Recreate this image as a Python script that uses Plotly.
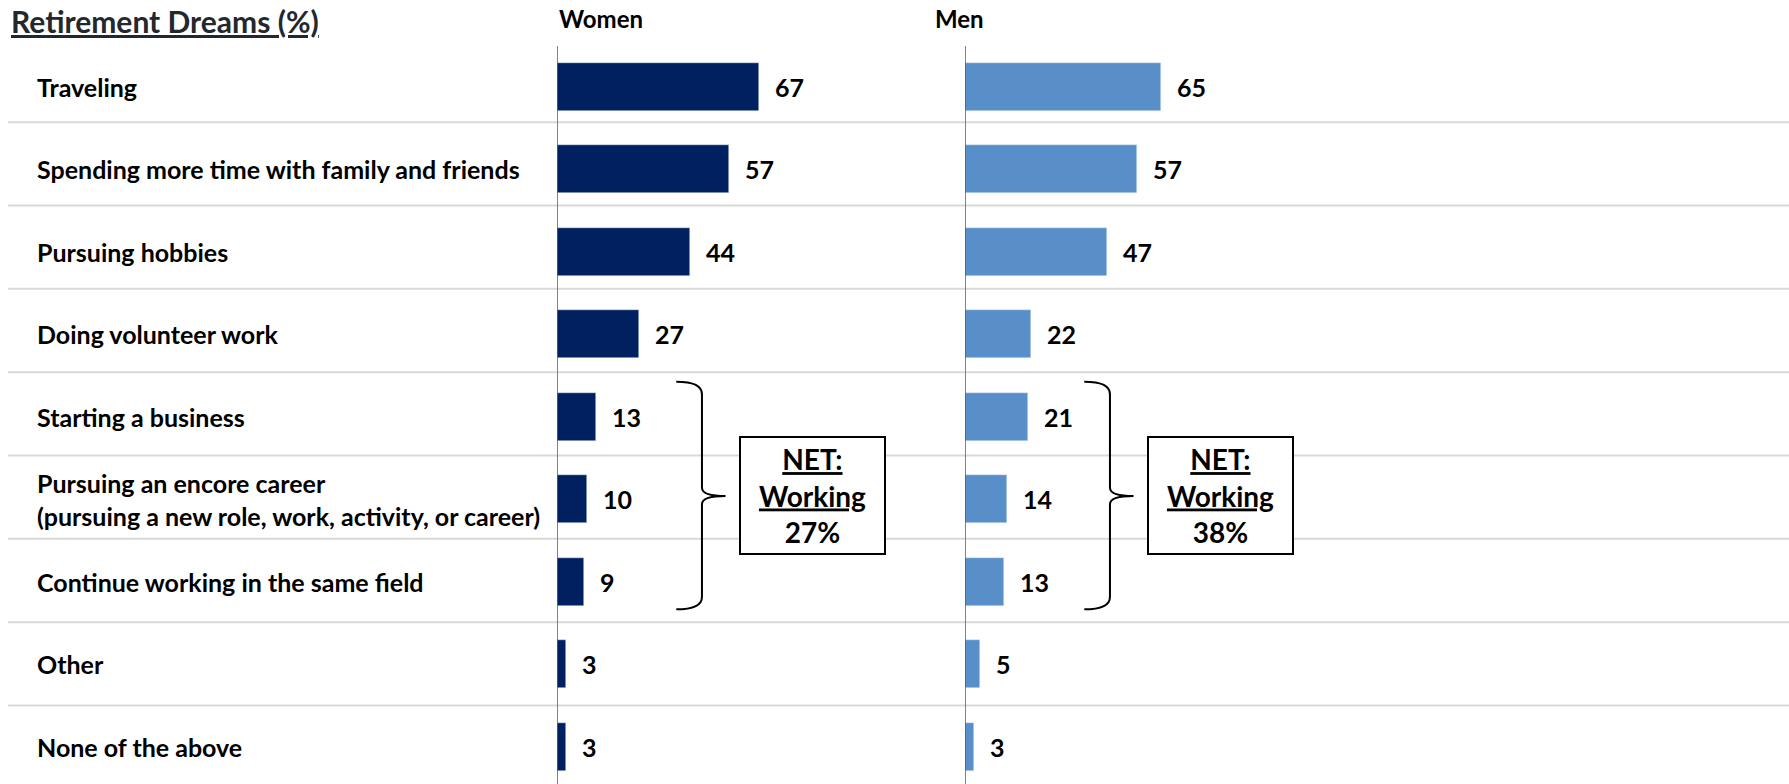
import plotly.graph_objects as go

categories = [
    "Traveling",
    "Spending more time with family and friends",
    "Pursuing hobbies",
    "Doing volunteer work",
    "Starting a business",
    "Pursuing an encore career<br>(pursuing a new role, work, activity, or career)",
    "Continue working in the same field",
    "Other",
    "None of the above",
]
women = [67, 57, 44, 27, 13, 10, 9, 3, 3]
men = [65, 57, 47, 22, 21, 14, 13, 5, 3]
net_working = {"Women": 27, "Men": 38}

W, H = 1789, 784
FONT = "Lato"
WOMEN_COLOR = "#002060"
MEN_COLOR = "#588FC9"

rows = list(range(len(categories)))

fig = go.Figure()
fig.add_trace(go.Bar(x=women, y=rows, orientation="h", marker_color=WOMEN_COLOR,
                     width=0.58, xaxis="x", yaxis="y", showlegend=False))
fig.add_trace(go.Bar(x=men, y=rows, orientation="h", marker_color=MEN_COLOR,
                     width=0.58, xaxis="x2", yaxis="y", showlegend=False))

annotations = []
shapes = []

# row labels
for i, c in enumerate(categories):
    annotations.append(dict(xref="paper", x=35 / W, xanchor="left", yref="y", y=i,
                            text=c, showarrow=False, align="left",
                            font=dict(family=FONT, size=25, color="black", weight="bold")))

# value labels
for ax, vals in (("x", women), ("x2", men)):
    for i, v in enumerate(vals):
        annotations.append(dict(xref=ax, x=v, xanchor="left", xshift=14, yref="y", y=i,
                                text=str(v), showarrow=False,
                                font=dict(family=FONT, size=25, color="black", weight="bold")))

# title and headers (above the plot area)
annotations.append(dict(xref="paper", x=9 / W, xanchor="left", yref="paper", y=1.034,
                        yanchor="middle", text="<u>Retirement Dreams (%)</u>", showarrow=False,
                        font=dict(family=FONT, size=30, color="#23272E", weight="bold")))
annotations.append(dict(xref="x", x=0, xanchor="left", yref="paper", y=1.037,
                        yanchor="middle", text="Women", showarrow=False,
                        font=dict(family=FONT, size=24, color="black", weight="bold")))
annotations.append(dict(xref="paper", x=933 / W, xanchor="left", yref="paper", y=1.037,
                        yanchor="middle", text="Men", showarrow=False,
                        font=dict(family=FONT, size=24, color="black", weight="bold")))

# horizontal separators
for k in range(len(categories) - 1):
    yk = 0.43 + 1.01 * k
    shapes.append(dict(type="line", xref="paper", x0=8 / W, x1=1, yref="y", y0=yk, y1=yk,
                       line=dict(color="#D9D9D9", width=2), layer="below"))

# axis lines, brackets and NET boxes
for ax, key in (("x", "Women"), ("x2", "Men")):
    shapes.append(dict(type="line", xref=ax, x0=0, x1=0, yref="paper", y0=0, y1=1,
                       line=dict(color="#595959", width=1.5)))
    top, mid, bot = 3.576, 4.96, 6.335
    hx, vx, tx = 39.5, 48.0, 55.8
    path = (f"M {hx},{top} Q {vx},{top} {vx},{top + 0.15} "
            f"L {vx},{mid - 0.1} Q {vx},{mid} {tx},{mid} "
            f"Q {vx},{mid} {vx},{mid + 0.1} "
            f"L {vx},{bot - 0.15} Q {vx},{bot} {hx},{bot}")
    shapes.append(dict(type="path", xref=ax, yref="y", path=path,
                       line=dict(color="black", width=2)))
    annotations.append(dict(xref=ax, x=84.7, yref="y", y=mid, showarrow=False,
                            text=f"<u>NET:</u><br><u>Working</u><br>{net_working[key]}%",
                            width=141, height=113, bordercolor="black", borderwidth=2,
                            bgcolor="white", align="center", valign="middle",
                            font=dict(family=FONT, size=28, color="black", weight="bold")))

fig.update_layout(
    width=W, height=H,
    margin=dict(l=0, r=0, t=46, b=0),
    plot_bgcolor="white", paper_bgcolor="white",
    bargap=0,
    xaxis=dict(domain=[557 / W, (557 + 120 * 3.02) / W], range=[0, 120], visible=False),
    xaxis2=dict(domain=[965 / W, (965 + 120 * 3.02) / W], range=[0, 120], visible=False,
                anchor="y"),
    yaxis=dict(range=[8.452, -0.493], visible=False),
    annotations=annotations,
    shapes=shapes,
)

fig.write_html("out.html", config={"displayModeBar": False},
               post_script="document.body.style.margin = '0';")
